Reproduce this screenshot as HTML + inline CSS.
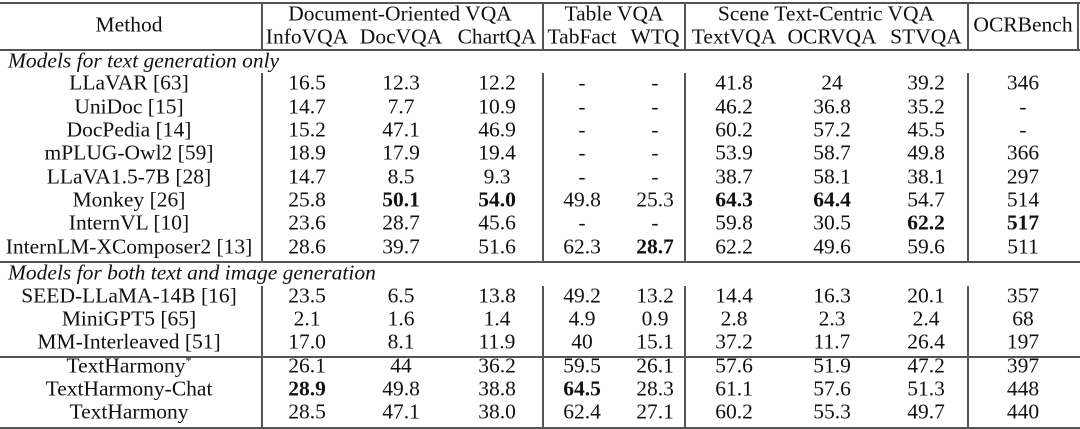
<!DOCTYPE html>
<html><head><meta charset="utf-8"><style>
body{margin:0;background:#fff;}
#t{position:relative;width:1080px;height:429px;overflow:hidden;font-family:"Liberation Serif",serif;font-size:21.5px;color:#111;}
.c{position:absolute;transform:translate(-50%,-50%);white-space:nowrap;line-height:1;}
.l{position:absolute;transform:translateY(-50%);white-space:nowrap;font-style:italic;line-height:1;}
.h{position:absolute;left:0;width:1080px;height:1.5px;background:#555;}
.v{position:absolute;width:1.5px;background:#555;}
.s{font-size:12px;position:relative;top:-8px;line-height:0;}
b{font-weight:bold;}
</style></head><body>
<div id="t"></div>
<script>
const cols=[307,401,497,582,655,734,832,926,1023];
const groups=[["Document-Oriented VQA",400],["Table VQA",614],["Scene Text-Centric VQA",826]];
const subs=["InfoVQA","DocVQA","ChartQA","TabFact","WTQ","TextVQA","OCRVQA","STVQA"];
const rows=[
["LLaVAR [63]","16.5","12.3","12.2","-","-","41.8","24","39.2","346"],
["UniDoc [15]","14.7","7.7","10.9","-","-","46.2","36.8","35.2","-"],
["DocPedia [14]","15.2","47.1","46.9","-","-","60.2","57.2","45.5","-"],
["mPLUG-Owl2 [59]","18.9","17.9","19.4","-","-","53.9","58.7","49.8","366"],
["LLaVA1.5-7B [28]","14.7","8.5","9.3","-","-","38.7","58.1","38.1","297"],
["Monkey [26]","25.8","*50.1","*54.0","49.8","25.3","*64.3","*64.4","54.7","514"],
["InternVL [10]","23.6","28.7","45.6","-","-","59.8","30.5","*62.2","*517"],
["InternLM-XComposer2 [13]","28.6","39.7","51.6","62.3","*28.7","62.2","49.6","59.6","511"],
["SEED-LLaMA-14B [16]","23.5","6.5","13.8","49.2","13.2","14.4","16.3","20.1","357"],
["MiniGPT5 [65]","2.1","1.6","1.4","4.9","0.9","2.8","2.3","2.4","68"],
["MM-Interleaved [51]","17.0","8.1","11.9","40","15.1","37.2","11.7","26.4","197"],
["TextHarmony<span class='s'>*</span>","26.1","44","36.2","59.5","26.1","57.6","51.9","47.2","397"],
["TextHarmony-Chat","*28.9","49.8","38.8","*64.5","28.3","61.1","57.6","51.3","448"],
["TextHarmony","28.5","47.1","38.0","62.4","27.1","60.2","55.3","49.7","440"]];
const ys=[83,107,130,153,177,200,223,247,296,319,342,366,389,412];
const t=document.getElementById('t');
function add(cls,html,x,y,name){const d=document.createElement('div');d.className=cls;d.innerHTML=html;d.style.left=x+'px';d.style.top=y+'px';


t.appendChild(d);}
function hl(y,name){const d=document.createElement('div');d.className='h';d.style.top=y+'px';


t.appendChild(d);}
function vl(x,y1,y2,name){const d=document.createElement('div');d.className='v';d.style.left=x+'px';d.style.top=y1+'px';d.style.height=(y2-y1)+'px';


t.appendChild(d);}
hl(2,'top-rule');hl(49,'header-rule');hl(261,'section-rule');hl(356,'ours-rule');hl(427,'bottom-rule');
[261,542,684,967].forEach(x=>{vl(x,2,49,'header-divider');vl(x,73,261,'column-divider');vl(x,286,427,'column-divider');});
vl(1077,2,49,'header-right-border');
add('c','Method',129,25,'method-header');
add('c','OCRBench',1023,25,'ocrbench-header');
groups.forEach(g=>add('c',g[0],g[1],14,'group-header'));
subs.forEach((s,i)=>add('c',s,cols[i],37,'column-header'));
add('l','Models for text generation only',8,61,'section-label');
add('l','Models for both text and image generation',8,273,'section-label');
rows.forEach((r,i)=>{r.forEach((v,j)=>{let h=v.startsWith('*')?'<b>'+v.slice(1)+'</b>':v;add('c',h,j==0?129:cols[j-1],ys[i],j==0?'method-name':'cell-value');});});
</script>
</body></html>
